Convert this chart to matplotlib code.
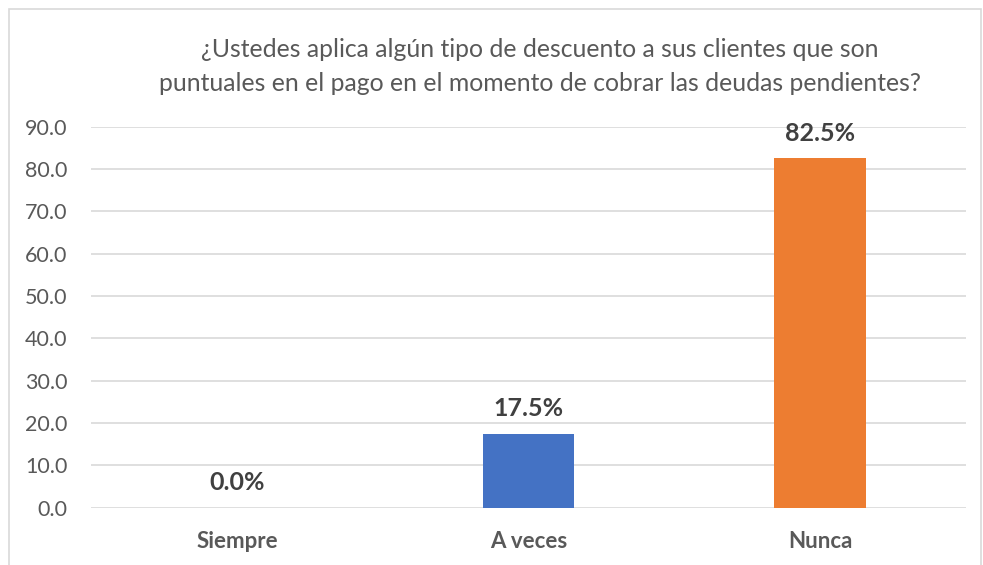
import matplotlib.pyplot as plt
from matplotlib.patches import Rectangle

categorias = ['Siempre', 'A veces', 'Nunca']
valores = [0.0, 17.5, 82.5]
colores = ['#4472C4', '#4472C4', '#ED7D31']
ticks_y = [0, 10, 20, 30, 40, 50, 60, 70, 80, 90]

plt.rcParams['font.family'] = ['Lato', 'DejaVu Sans']

fig = plt.figure(figsize=(9.83, 5.65), dpi=100)
ax = fig.add_axes([0.0926, 0.1014, 0.8901, 0.6743])

x = range(len(categorias))
ax.bar(x, valores, width=0.315, color=colores, zorder=3)

ax.set_xlim(-0.5, len(categorias) - 0.5)
ax.set_ylim(0, 90)
ax.set_yticks(ticks_y)
ax.set_yticklabels([f'{v:.1f}' for v in ticks_y], fontsize=15.5, color='#595959')
ax.set_xticks(list(x))
ax.set_xticklabels(categorias, fontsize=16, fontweight='bold', color='#595959')
ax.tick_params(axis='both', length=0)
ax.tick_params(axis='y', pad=17)
ax.tick_params(axis='x', pad=17)

ax.grid(axis='y', color='#d9d9d9', linewidth=1.2, zorder=0)
for s in ax.spines.values():
    s.set_visible(False)

# etiquetas de porcentaje encima de las barras
for i, v in enumerate(valores):
    ax.annotate(f'{v:.1f}%', (i, v), xytext=(0, 18), textcoords='offset points',
                ha='center', va='center', fontsize=18, fontweight='bold', color='#404040')

fig.text(0.549, 0.912, '¿Ustedes aplica algún tipo de descuento a sus clientes que son',
         ha='center', va='center', fontsize=17.8, color='#595959')
fig.text(0.549, 0.853, 'puntuales en el pago en el momento de cobrar las deudas pendientes?',
         ha='center', va='center', fontsize=17.8, color='#595959')

# borde del grafico
fig.patches.append(Rectangle((8.5 / 983, -0.01), 972 / 983, 1 - 8.5 / 565 + 0.01,
                             transform=fig.transFigure, fill=False,
                             edgecolor='#d9d9d9', linewidth=1.2))

fig.savefig('out.png', dpi=100, facecolor='white')
